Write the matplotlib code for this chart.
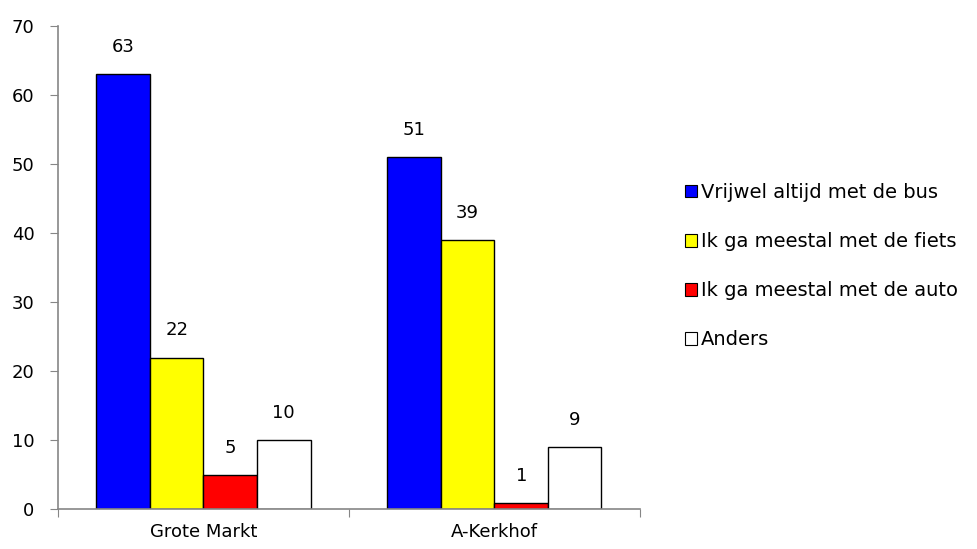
import numpy as np
import matplotlib.pyplot as plt
from matplotlib.patches import Patch

categories = ["Grote Markt", "A-Kerkhof"]
series = ["Vrijwel altijd met de bus", "Ik ga meestal met de fiets",
          "Ik ga meestal met de auto", "Anders"]
bus = [63, 51]
fiets = [22, 39]
auto = [5, 1]
anders = [10, 9]
colors = ["#0000FF", "#FFFF00", "#FF0000", "#FFFFFF"]

plt.rcParams['font.family'] = ['DejaVu Sans']

fig = plt.figure(figsize=(9.78, 5.49), dpi=100)
ax = fig.add_axes([0.0593, 0.072, 0.595, 0.8806])

values = [bus, fiets, auto, anders]
x = np.arange(len(categories))
w = 0.184
for i, (vals, col, name) in enumerate(zip(values, colors, series)):
    pos = x + (i - 1.5) * w
    ax.bar(pos, vals, width=w, color=col, edgecolor="black", linewidth=1, label=name)
    for p, v in zip(pos, vals):
        ax.annotate(str(v), (p, v), xytext=(0, 13), textcoords="offset points",
                    ha="center", va="bottom", fontsize=13)

ax.set_xlim(-0.5, 1.5)
ax.set_ylim(0, 70)
ax.set_yticks(range(0, 71, 10))
ax.set_xticks([-0.5, 0.5, 1.5])
ax.set_xticklabels([])
ax.set_xticks(x, minor=True)
ax.set_xticklabels(categories, minor=True)
ax.tick_params(axis="x", which="minor", length=0, pad=10, labelsize=13)
ax.tick_params(axis="x", which="major", length=6, color="#868686", direction="out")
ax.tick_params(axis="y", length=6, color="#868686", labelsize=13, pad=11)
for s in ["top", "right"]:
    ax.spines[s].set_visible(False)
for s in ["left", "bottom"]:
    ax.spines[s].set_color("#868686")
    ax.spines[s].set_linewidth(1.2)

handles = [Patch(facecolor=c, edgecolor="black", linewidth=0.8) for c in colors]
fig.legend(handles, series, loc="center left", bbox_to_anchor=(0.683, 0.515),
           frameon=False, fontsize=14, handlelength=0.6, handleheight=0.6,
           handletextpad=0.2, labelspacing=1.55)

fig.savefig("out.png", dpi=100)
